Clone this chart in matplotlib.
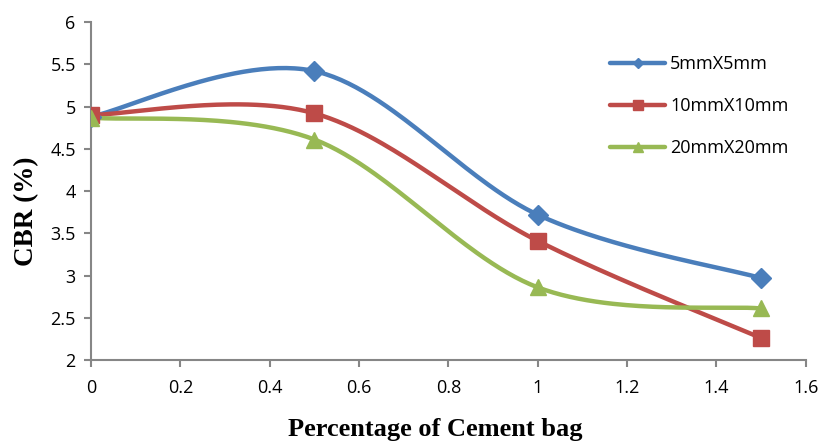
import numpy as np
import matplotlib
matplotlib.use("Agg")
import matplotlib.pyplot as plt
from matplotlib.lines import Line2D

x_vals = [0, 0.5, 1, 1.5]
s5 = [4.88, 5.42, 3.72, 2.97]
s10 = [4.90, 4.92, 3.41, 2.26]
s20 = [4.87, 4.61, 2.86, 2.61]
labels = ["5mmX5mm", "10mmX10mm", "20mmX20mm"]
colors = ["#4A7EBB", "#BE4B48", "#98B954"]
markers = ["D", "s", "^"]
msizes = [10, 12, 12]


def smooth(xs, ys, n=60):
    P = np.column_stack([xs, ys]).astype(float)
    Pext = np.vstack([P[0], P, P[-1]])
    out = []
    t = np.linspace(0, 1, n)[:, None]
    for i in range(len(P) - 1):
        p0, p1, p2, p3 = Pext[i], Pext[i + 1], Pext[i + 2], Pext[i + 3]
        c1 = p1 + (p2 - p0) / 6
        c2 = p2 - (p3 - p1) / 6
        seg = ((1 - t) ** 3) * p1 + 3 * ((1 - t) ** 2) * t * c1 + 3 * (1 - t) * t ** 2 * c2 + t ** 3 * p2
        out.append(seg if i == 0 else seg[1:])
    c = np.vstack(out)
    return c[:, 0], c[:, 1]


fig = plt.figure(figsize=(8.23, 4.42), dpi=100)
ax = fig.add_axes([0.1106, 0.1855, 0.8684, 0.7645])

handles = []
for ys, lab, col, mk, ms in zip([s5, s10, s20], labels, colors, markers, msizes):
    sx, sy = smooth(x_vals, ys)
    ax.plot(sx, sy, color=col, lw=3.2, solid_capstyle="round", zorder=2)
    ax.plot(x_vals, ys, linestyle="none", marker=mk, markersize=ms, color=col, zorder=3)
    handles.append(Line2D([], [], color=col, lw=3.2, marker=mk, markersize=ms * 0.55, solid_capstyle="round"))

ax.set_xlim(0, 1.6)
ax.set_ylim(2, 6)
ax.set_xticks(np.arange(0, 1.61, 0.2))
ax.set_xticklabels(["0", "0.2", "0.4", "0.6", "0.8", "1", "1.2", "1.4", "1.6"])
ax.set_yticks(np.arange(2, 6.01, 0.5))
ax.set_yticklabels(["2", "2.5", "3", "3.5", "4", "4.5", "5", "5.5", "6"])

for s in ["top", "right"]:
    ax.spines[s].set_visible(False)
for s in ["left", "bottom"]:
    ax.spines[s].set_color("#868686")
    ax.spines[s].set_linewidth(1.5)
ax.tick_params(axis="both", colors="#868686", length=5, width=1.5, labelcolor="black", labelsize=13)
for lab in ax.get_xticklabels() + ax.get_yticklabels():
    lab.set_fontfamily("Open Sans")
ax.tick_params(axis="x", pad=9)
ax.tick_params(axis="y", pad=6)

ax.set_xlabel("Percentage of Cement bag", fontfamily="Liberation Serif", fontweight="bold", fontsize=19, labelpad=15)
ax.set_ylabel("CBR (%)", fontfamily="Liberation Serif", fontweight="bold", fontsize=19.5, labelpad=8)
ax.xaxis.label.set_x(0.481)
ax.yaxis.label.set_y(0.44)

leg = ax.legend(handles, labels, loc="upper left", bbox_to_anchor=(0.704, 0.95), frameon=False,
                prop={"family": "Open Sans", "size": 13}, handlelength=3.0, labelspacing=1.33, handletextpad=0.3)

fig.savefig("out.png", dpi=100)
